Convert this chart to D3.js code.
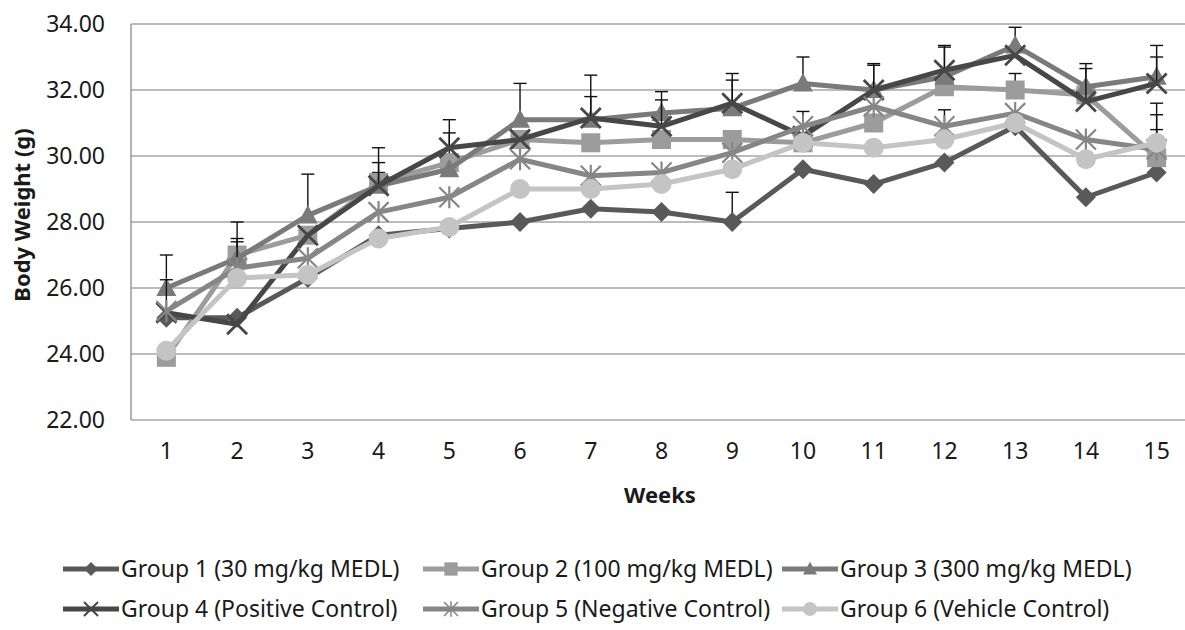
<!DOCTYPE html>
<html>
<head>
<meta charset="utf-8">
<script src="https://cdn.jsdelivr.net/npm/d3@7"></script>
<style>
	body { margin: 0; background: #fff; }
	svg text { font-family: 'Noto Sans', sans-serif; fill: #1a1a1a; }
</style>
</head>
<body>
<svg id="chart" width="1185" height="630"></svg>
<script>
const weeks = [1, 2, 3, 4, 5, 6, 7, 8, 9, 10, 11, 12, 13, 14, 15];
const yTicks = [22, 24, 26, 28, 30, 32, 34];

const groupNames = [
	'Group 1 (30 mg/kg MEDL)',
	'Group 2 (100 mg/kg MEDL)',
	'Group 3 (300 mg/kg MEDL)',
	'Group 4 (Positive Control)',
	'Group 5 (Negative Control)',
	'Group 6 (Vehicle Control)'
];
const g1 = [25.1, 25.1, 26.3, 27.6, 27.8, 28.0, 28.4, 28.3, 28.0, 29.6, 29.15, 29.8, 30.9, 28.75, 29.5];
const g2 = [23.9, 27.0, 27.6, 29.2, 29.8, 30.5, 30.4, 30.5, 30.5, 30.4, 31.0, 32.1, 32.0, 31.85, 29.95];
const g3 = [26.0, 26.9, 28.2, 29.1, 29.6, 31.1, 31.1, 31.3, 31.45, 32.2, 32.0, 32.4, 33.35, 32.1, 32.4];
const g4 = [25.25, 24.9, 27.6, 29.1, 30.25, 30.5, 31.15, 30.9, 31.6, 30.6, 32.0, 32.6, 33.05, 31.65, 32.2];
const g5 = [25.3, 26.6, 26.9, 28.3, 28.75, 29.9, 29.4, 29.5, 30.1, 30.9, 31.5, 30.9, 31.3, 30.5, 30.2];
const g6 = [24.1, 26.3, 26.4, 27.5, 27.85, 29.0, 29.0, 29.15, 29.6, 30.4, 30.25, 30.5, 31.0, 29.9, 30.4];

// upper error (SE) per group, 0 = no bar visible
const e1 = [0, 0, 0, 0, 0, 0, 0, 0, 0.9, 0, 0, 0, 0, 0, 0];
const e2 = [0, 0.5, 0, 0.3, 0.9, 0, 0, 0, 0, 0, 0, 0, 0.5, 0, 1.3];
const e3 = [1.0, 1.1, 1.25, 0.7, 0, 1.1, 1.35, 0.65, 0.85, 0.8, 0.75, 0.9, 0.55, 0.7, 0.95];
const e4 = [1.0, 0, 0, 1.15, 0.85, 0, 0.65, 0.8, 0.9, 0, 0.8, 0.75, 0, 1.0, 0.8];
const e5 = [0, 0.8, 0, 0, 0, 0, 0, 0, 0, 0.45, 0, 0.5, 0, 0, 0.6];
const e6 = [0, 0, 0, 0, 0, 0, 0, 0, 0, 0, 0, 0, 0, 0, 1.2];

const colors = ['#595959', '#9c9c9c', '#7a7a7a', '#474747', '#868686', '#c4c4c4'];
const shapes = ['diamond', 'square', 'triangle', 'x', 'asterisk', 'circle'];

const series = [g1, g2, g3, g4, g5, g6].map((vals, i) => ({
	name: groupNames[i],
	color: colors[i],
	shape: shapes[i],
	values: vals.map((v, j) => ({ week: weeks[j], value: v, err: [e1, e2, e3, e4, e5, e6][i][j] }))
}));

const svg = d3.select('#chart');
const margin = { top: 24, left: 131, bottom: 420, right: 1192 };

const x = d3.scaleBand().domain(weeks).range([margin.left, margin.right]);
const y = d3.scaleLinear().domain([22, 34]).range([margin.bottom, margin.top]);

// gridlines
svg.append('g')
	.selectAll('line')
	.data(yTicks)
	.join('line')
	.attr('x1', margin.left).attr('x2', margin.right)
	.attr('y1', d => y(d)).attr('y2', d => y(d))
	.attr('stroke', '#a6a6a6').attr('stroke-width', 1.3);

svg.append('line')
	.attr('x1', margin.left).attr('x2', margin.left)
	.attr('y1', margin.top).attr('y2', margin.bottom)
	.attr('stroke', '#8c8c8c').attr('stroke-width', 1.3);

const yAxis = svg.append('g')
	.attr('transform', `translate(${margin.left},0)`)
	.call(d3.axisLeft(y).tickValues(yTicks).tickFormat(d3.format('.2f')).tickSize(0).tickPadding(26));
yAxis.select('.domain').remove();
yAxis.selectAll('text').style('font-size', '23px').attr('fill', '#1a1a1a').attr('dy', '0.34em');

const xAxis = svg.append('g')
	.attr('transform', `translate(0,${margin.bottom})`)
	.call(d3.axisBottom(x).tickSize(0).tickPadding(23));
xAxis.select('.domain').remove();
xAxis.selectAll('text').style('font-size', '23px').attr('fill', '#1a1a1a');

svg.append('text')
	.attr('transform', `translate(30,215) rotate(-90)`)
	.attr('text-anchor', 'middle')
	.style('font-size', '22px').style('font-weight', 'bold')
	.text('Body Weight (g)');

svg.append('text')
	.attr('x', 660).attr('y', 503)
	.attr('text-anchor', 'middle')
	.style('font-size', '22px').style('font-weight', 'bold')
	.text('Weeks');

function drawMarker(sel, shape, color, s) {
	if (shape === 'diamond') {
		sel.append('path').attr('d', `M0,${-s}L${s},0L0,${s}L${-s},0Z`).attr('fill', color);
	} else if (shape === 'square') {
		sel.append('rect').attr('x', -s * 0.95).attr('y', -s * 0.95).attr('width', s * 1.9).attr('height', s * 1.9).attr('fill', color);
	} else if (shape === 'triangle') {
		sel.append('path').attr('d', `M0,${-s * 1.05}L${s},${s * 0.8}L${-s},${s * 0.8}Z`).attr('fill', color);
	} else if (shape === 'x') {
		sel.append('path').attr('d', `M${-s},${-s}L${s},${s}M${s},${-s}L${-s},${s}`)
			.attr('stroke', color).attr('stroke-width', Math.max(1.2, s * 0.28)).attr('fill', 'none');
	} else if (shape === 'asterisk') {
		sel.append('path').attr('d', `M${-s},${-s}L${s},${s}M${s},${-s}L${-s},${s}M0,${-s * 1.1}L0,${s * 1.1}`)
			.attr('stroke', color).attr('stroke-width', Math.max(1.2, s * 0.22)).attr('fill', 'none');
	} else {
		sel.append('circle').attr('r', s).attr('fill', color);
	}
}

const line = d3.line().x(d => x(d.week) + x.bandwidth() / 2).y(d => y(d.value));
const plot = svg.append('g');

series.forEach(s => {
	const g = plot.append('g');
	g.append('path')
		.datum(s.values)
		.attr('d', line)
		.attr('fill', 'none')
		.attr('stroke', s.color)
		.attr('stroke-width', 5)
		.attr('stroke-linejoin', 'round');

	const errs = s.values.filter(d => d.err > 0);
	const eb = g.selectAll('.err').data(errs).join('g').attr('class', 'err')
		.attr('transform', d => `translate(${x(d.week) + x.bandwidth() / 2},0)`);
	eb.append('line')
		.attr('y1', d => y(d.value)).attr('y2', d => y(d.value + d.err))
		.attr('stroke', '#111').attr('stroke-width', 1.4);
	eb.append('line')
		.attr('x1', -6.5).attr('x2', 6.5)
		.attr('y1', d => y(d.value + d.err)).attr('y2', d => y(d.value + d.err))
		.attr('stroke', '#111').attr('stroke-width', 1.4);

	g.selectAll('.mk').data(s.values).join('g').attr('class', 'mk')
		.attr('transform', d => `translate(${x(d.week) + x.bandwidth() / 2},${y(d.value)})`)
		.each(function () { drawMarker(d3.select(this), s.shape, s.color, 10); });
});

// legend
const legendCols = [63, 423, 782];
const legendRows = [569, 609];
const legend = svg.append('g');
series.forEach((s, i) => {
	const lg = legend.append('g')
		.attr('transform', `translate(${legendCols[i % 3]},${legendRows[Math.floor(i / 3)]})`);
	lg.append('line').attr('x1', 0).attr('x2', 56).attr('stroke', s.color).attr('stroke-width', 5);
	const m = lg.append('g').attr('transform', 'translate(28,0)');
	drawMarker(m, s.shape, s.color, 7);
	lg.append('text')
		.attr('x', 58).attr('dy', '0.36em')
		.style('font-size', '23px')
		.text(s.name);
});
</script>
</body>
</html>
